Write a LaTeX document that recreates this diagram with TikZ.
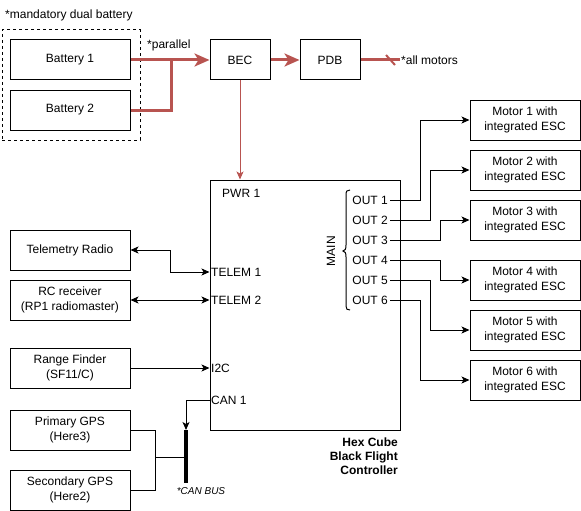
\documentclass[tikz,border=0pt]{standalone}
\usepackage{fontspec}
\setmainfont{Liberation Sans}
\usetikzlibrary{arrows.meta}
\definecolor{pwr}{HTML}{B85450}
\begin{document}
\begin{tikzpicture}[x=1pt,y=-1pt,
  every node/.style={font=\fontsize{12}{14.5}\selectfont, inner sep=0pt},
  box/.style={draw, line width=1pt, minimum width=120pt, minimum height=40pt, align=center},
  sbox/.style={draw, line width=1pt, minimum width=60pt, minimum height=40pt},
  mbox/.style={draw, line width=1pt, minimum width=110pt, minimum height=40pt, align=center},
  thin/.style={line width=1pt},
  tip/.style={-{Stealth[length=8pt,width=7pt,inset=2pt]}},
  dtip/.style={{Stealth[length=8pt,width=7pt,inset=2pt]}-{Stealth[length=8pt,width=7pt,inset=2pt]}},
  redthick/.style={draw=pwr, line width=3pt},
  redtip/.style={-{Stealth[length=15pt,width=13pt,inset=4pt]}},
  lbl/.style={anchor=west}
]
\useasboundingbox (0,0) rectangle (581,511);
% dashed group
\node[draw, dashed, line width=1pt, minimum width=138pt, minimum height=110pt] (dual) at (71,85) {};
\node[lbl] (mand) at (5,15) {*mandatory dual battery};
\node[box] (bat1) at (70,60) {Battery 1};
\node[box] (bat2) at (70,110) {Battery 2};
\node[lbl] (par) at (147,45) {*parallel};
\node[sbox] (bec) at (240,60) {BEC};
\node[sbox] (pdb) at (330,60) {PDB};
\coordinate (j) at (171,60);
\coordinate (allend) at (400,60);
\node[lbl] (allm) at (401,60) {*all motors};
% power
\draw[redthick, redtip] (bat1.east) -- (bec.west);
\draw[redthick] (bat2.east) -| (j);
\draw[redthick, redtip] (bec.east) -- (pdb.west);
\draw[redthick] (pdb.east) -- (allend);
\draw[draw=pwr, line width=2pt] (386,55) -- (395,65);
% flight controller
\node[draw, line width=1pt, minimum width=190pt, minimum height=250pt] (fc) at (305,305) {};
\draw[draw=pwr, thin, -{Stealth[length=8pt,width=7pt,inset=2pt]}] (bec.south) -- (fc.north -| bec.south);
\node[lbl] (pwr1) at (222,193) {PWR 1};
\node[lbl] (tl1) at (211,272) {TELEM 1};
\node[lbl] (tl2) at (211,300) {TELEM 2};
\node[lbl] (i2c) at (211,368) {I2C};
\node[lbl] (can1) at (211,400) {CAN 1};
\node[anchor=east, align=right, font=\fontsize{12}{14}\selectfont\bfseries] (fcname) at (398,456) {Hex Cube\\Black Flight\\Controller};
% outputs
\foreach \i/\y in {1/200,2/220,3/240,4/260,5/280,6/300}{
  \node[anchor=east] (out\i) at (388,\y) {OUT \i};
}
\draw[thin] (350,190) .. controls (347,190) and (346,191) .. (346,195) -- (346,245)
  .. controls (346,249) and (345,251) .. (343,251) .. controls (345,251) and (346,253) .. (346,257)
  -- (346,306) .. controls (346,309) and (347,310) .. (350,310);
\node[rotate=90] (main) at (331,251) {MAIN};
% motors
\foreach \i/\y in {1/120,2/170,3/220,4/280,5/330,6/380}{
  \node[mbox] (m\i) at (525,\y) {Motor \i{} with\\integrated ESC};
}
\foreach \i/\x in {1/420,2/430,3/440,4/440,5/430,6/420}{
  \draw[thin, tip] (out\i.east) ++(2,0) -- (\x,0 |- out\i.east) |- (m\i.west);
}
% left peripherals
\node[box] (tel) at (70,250) {Telemetry Radio};
\node[box] (rc) at (70,300) {RC receiver\\(RP1 radiomaster)};
\node[box] (rf) at (70,368) {Range Finder\\(SF11/C)};
\node[box] (gps1) at (70,430) {Primary GPS\\(Here3)};
\node[box] (gps2) at (70,490) {Secondary GPS\\(Here2)};
\draw[thin, dtip] (tel.east) -- (170,250) |- (fc.west |- tl1.west);
\draw[thin, dtip] (rc.east) -- (fc.west |- tl2.west);
\draw[thin, tip] (rf.east) -- (fc.west |- i2c.west);
% CAN bus
\coordinate (bustop) at (186,430);
\coordinate (busbot) at (186,483);
\coordinate (busmid) at (186,457);
\draw[line width=4pt] (bustop) -- (busbot);
\draw[thin, tip] (fc.west |- can1.west) -| (bustop);
\draw[thin] (gps1.east) -- (155,430) |- (busmid);
\draw[thin] (gps2.east) -- (155,490) |- (busmid);
\node[font=\fontsize{10}{12}\selectfont\itshape] (canbus) at (201,491) {*CAN BUS};
\end{tikzpicture}
\end{document}
